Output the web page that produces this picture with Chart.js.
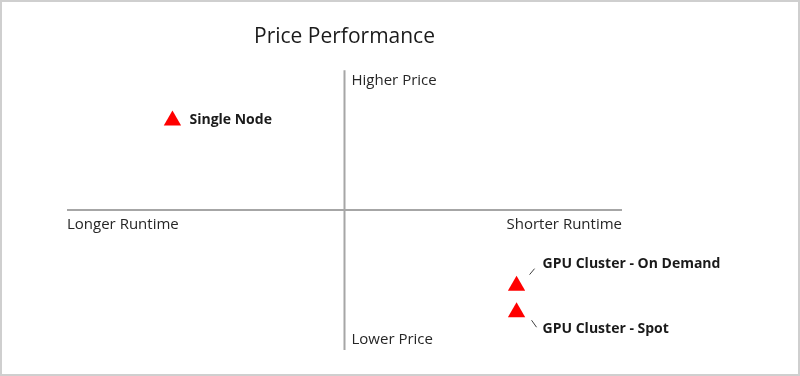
<!DOCTYPE html>
<html>
<head>
<meta charset="utf-8">
<script src="https://cdn.jsdelivr.net/npm/chart.js@4.4.1/dist/chart.umd.min.js"></script>
<style>
  html, body { margin: 0; padding: 0; background: #fff; }
  #wrap { width: 800px; height: 376px; }
</style>
</head>
<body>
<div id="wrap"><canvas id="ChartPricePerformance" width="800" height="376"></canvas></div>
<script>
// data
const pointNames = ['Single Node', 'GPU Cluster - On Demand', 'GPU Cluster - Spot'];
const runtimeScore = [-0.62, 0.62, 0.62];   // x: longer (-) .. shorter (+)
const priceScore = [0.64, -0.54, -0.73];    // y: lower (-) .. higher (+)
const axisLabels = ['Higher Price', 'Lower Price', 'Longer Runtime', 'Shorter Runtime'];

// label placement relative to the point (dx, dy) and optional leader line
const labelStyle = [
    { dx: 17, dy: -1, leader: null },
    { dx: 26, dy: -22, leader: [13, -11, 18, -17] },
    { dx: 26, dy: 17, leader: [15, 8, 20, 15] }
];

const textFont = "'Open Sans', 'Noto Sans', sans-serif";

const quadrantPlugin = {
    id: 'quadrant',
    beforeDatasetsDraw(chart) {
        const ctx = chart.ctx;
        const xs = chart.scales.x, ys = chart.scales.y;
        const cx = xs.getPixelForValue(0), cy = ys.getPixelForValue(0);
        ctx.save();
        ctx.strokeStyle = '#a6a6a6';
        ctx.lineWidth = 2;
        ctx.beginPath();
        ctx.moveTo(cx, ys.getPixelForValue(ys.max));
        ctx.lineTo(cx, ys.getPixelForValue(ys.min));
        ctx.moveTo(xs.getPixelForValue(xs.min), cy);
        ctx.lineTo(xs.getPixelForValue(xs.max), cy);
        ctx.stroke();

        ctx.fillStyle = '#262626';
        ctx.font = "15px " + textFont;
        ctx.textBaseline = 'middle';
        ctx.textAlign = 'left';
        ctx.fillText(axisLabels[0], cx + 7, ys.getPixelForValue(ys.max) + 11);
        ctx.fillText(axisLabels[1], cx + 7, ys.getPixelForValue(ys.min) - 10);
        ctx.fillText(axisLabels[2], xs.getPixelForValue(xs.min), cy + 15);
        ctx.textAlign = 'right';
        ctx.fillText(axisLabels[3], xs.getPixelForValue(xs.max), cy + 15);
        ctx.restore();
    },
    afterDatasetsDraw(chart) {
        const ctx = chart.ctx;
        const meta = chart.getDatasetMeta(0);
        ctx.save();
        ctx.fillStyle = '#1a1a1a';
        ctx.strokeStyle = '#404040';
        ctx.lineWidth = 1;
        ctx.font = "bold 14px " + textFont;
        ctx.textBaseline = 'middle';
        ctx.textAlign = 'left';
        meta.data.forEach(function (pt, i) {
            const s = labelStyle[i];
            ctx.fillText(pointNames[i], pt.x + s.dx, pt.y + s.dy);
            if (s.leader) {
                ctx.beginPath();
                ctx.moveTo(pt.x + s.leader[0], pt.y + s.leader[1]);
                ctx.lineTo(pt.x + s.leader[2], pt.y + s.leader[3]);
                ctx.stroke();
            }
        });
        ctx.restore();
    },
    afterDraw(chart) {
        const ctx = chart.ctx;
        ctx.save();
        ctx.strokeStyle = '#cfcfcf';
        ctx.lineWidth = 2;
        ctx.strokeRect(1, 1, chart.width - 2, chart.height - 2);
        ctx.restore();
    }
};

const ChartPricePerformance = document.getElementById('ChartPricePerformance');
new Chart(ChartPricePerformance, {
    type: 'scatter',
    data: {
        datasets: [{
            label: 'Price Performance',
            data: runtimeScore.map(function (v, i) { return { x: v, y: priceScore[i] }; }),
            pointStyle: 'triangle',
            radius: 10,
            hoverRadius: 10,
            backgroundColor: '#ff0000',
            borderColor: '#ff0000',
            borderWidth: 0
        }]
    },
    options: {
        responsive: false,
        animation: false,
        layout: { padding: { left: 67, right: 178, top: 0, bottom: 26 } },
        plugins: {
            legend: { display: false },
            tooltip: { enabled: false },
            title: {
                display: true,
                text: 'Price Performance',
                color: '#1a1a1a',
                font: { family: textFont, size: 21, weight: 'normal', lineHeight: 1.2 },
                padding: { top: 24, bottom: 21 }
            }
        },
        scales: {
            x: { type: 'linear', min: -1, max: 1, display: false },
            y: { type: 'linear', min: -1, max: 1, display: false }
        }
    },
    plugins: [quadrantPlugin]
});
</script>
</body>
</html>
